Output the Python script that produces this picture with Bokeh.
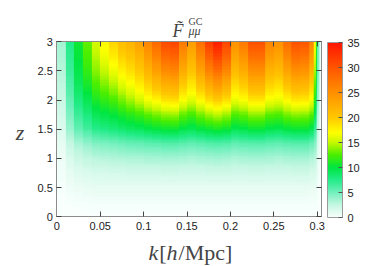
import numpy as np
from bokeh.plotting import figure
from bokeh.models import (LinearColorMapper, ColorBar, Label, FixedTicker,
                          LinearAxis, Range1d)
from bokeh.embed import file_html
from bokeh.resources import INLINE

# ---------------- data ----------------
k_centers = [0.005, 0.015, 0.025, 0.035, 0.045, 0.055, 0.065, 0.075, 0.085, 0.095,
             0.105, 0.115, 0.125, 0.135, 0.145, 0.155, 0.165, 0.175, 0.185, 0.195,
             0.205, 0.215, 0.225, 0.235, 0.245, 0.255, 0.265, 0.275, 0.285, 0.295]
z_levels = [0.0, 0.25, 0.5, 0.75, 1.0, 1.25, 1.5, 1.75, 2.0, 2.25, 2.5, 2.75, 3.0]

# F_mumu^GC along k, one list per redshift level
F_z000 = [0.0] * 30
F_z025 = [0.05, 0.15, 0.2, 0.25, 0.3, 0.3, 0.3, 0.3, 0.3, 0.3, 0.3, 0.3, 0.3, 0.3, 0.3,
          0.3, 0.3, 0.3, 0.3, 0.3, 0.3, 0.3, 0.3, 0.3, 0.3, 0.3, 0.3, 0.3, 0.3, 0.25]
F_z050 = [0.2, 0.5, 0.7, 0.8, 0.9, 0.9, 0.9, 0.9, 0.9, 0.9, 0.9, 0.9, 0.9, 0.9, 0.9,
          0.9, 0.9, 0.9, 0.9, 0.9, 0.9, 0.9, 0.9, 0.9, 0.9, 0.9, 0.9, 0.9, 0.9, 0.8]
F_z075 = [0.35, 0.9, 1.3, 1.5, 1.7, 1.7, 1.8, 1.8, 1.9, 1.9, 1.9, 1.9, 2.0, 2.0, 1.9,
          1.9, 1.9, 2.0, 2.0, 2.0, 1.9, 1.9, 2.0, 2.0, 1.9, 1.9, 1.9, 2.0, 2.0, 1.7]
F_z100 = [0.6, 1.6, 2.2, 2.6, 2.9, 3.0, 3.1, 3.2, 3.3, 3.3, 3.4, 3.4, 3.5, 3.5, 3.4,
          3.3, 3.4, 3.5, 3.6, 3.5, 3.3, 3.4, 3.5, 3.5, 3.4, 3.3, 3.4, 3.5, 3.5, 3.1]
F_z125 = [0.9, 2.4, 3.4, 4.0, 4.5, 4.7, 4.9, 5.1, 5.3, 5.4, 5.6, 5.7, 5.9, 5.9, 5.7,
          5.5, 5.7, 5.9, 6.0, 5.9, 5.5, 5.7, 5.8, 5.8, 5.6, 5.5, 5.7, 5.8, 5.8, 5.3]
F_z150 = [1.5, 3.8, 5.5, 6.5, 7.5, 7.8, 8.2, 8.6, 9.0, 9.3, 9.8, 10.2, 10.5, 10.6, 9.9,
          9.5, 10.1, 10.6, 11.0, 10.6, 9.6, 9.9, 10.4, 10.4, 9.8, 9.6, 10.1, 10.4, 10.4, 9.6]
F_z175 = [1.9, 4.7, 6.8, 8.0, 9.3, 9.8, 10.3, 11.0, 11.6, 12.2, 13.0, 13.6, 14.2, 14.3, 13.2,
          12.5, 13.5, 14.4, 15.0, 14.3, 12.7, 13.2, 14.0, 14.0, 13.0, 12.7, 13.5, 14.0, 13.9, 13.0]
F_z200 = [2.3, 5.5, 8.0, 9.5, 11.0, 11.8, 12.5, 13.5, 14.5, 15.5, 16.8, 17.7, 18.7, 18.9, 17.1,
          16.0, 17.5, 19.0, 20.0, 18.9, 16.4, 17.1, 18.5, 18.5, 16.8, 16.4, 17.5, 18.5, 18.3, 16.8]
F_z225 = [2.7, 6.2, 9.0, 10.8, 12.5, 13.5, 14.5, 15.8, 16.8, 18.0, 19.4, 20.8, 22.1, 22.4, 19.9,
          18.3, 20.5, 22.6, 24.0, 22.4, 18.8, 19.9, 21.8, 21.8, 19.4, 18.8, 20.5, 21.8, 21.6, 19.4]
F_z250 = [3.0, 6.8, 9.7, 11.8, 13.8, 15.1, 16.5, 17.8, 18.8, 20.0, 21.9, 23.7, 25.5, 25.9, 22.6,
          20.5, 23.4, 26.2, 28.0, 25.9, 21.2, 22.6, 25.1, 25.1, 21.9, 21.2, 23.4, 25.1, 24.8, 21.9]
F_z275 = [3.3, 7.2, 10.2, 12.5, 14.8, 16.5, 18.0, 19.5, 20.4, 21.8, 24.1, 26.2, 28.4, 28.9, 24.9,
          22.3, 25.8, 29.3, 31.5, 28.9, 23.2, 24.9, 28.0, 28.0, 24.1, 23.2, 25.8, 28.0, 27.6, 24.1]
F_z300 = [3.5, 7.5, 10.5, 13.0, 15.5, 17.5, 19.5, 21.0, 22.0, 23.5, 26.0, 28.5, 31.0, 31.5, 27.0,
          24.0, 28.0, 32.0, 34.5, 31.5, 25.0, 27.0, 30.5, 30.5, 26.0, 25.0, 28.0, 30.5, 30.0, 26.0]

# narrow strip at the upper k edge (k from 0.296 to the end of the axis), z ascending
edge_F_1 = [0, 0.3, 0.8, 1.6, 2.8, 4.5, 7.0, 9.5, 11.5, 13.0, 14.5, 16.0, 17.0]
edge_F_2 = [0, 0.3, 0.7, 1.3, 2.2, 3.4, 5.0, 6.5, 8.0, 9.0, 10.0, 10.5, 11.0]
edge_F_3 = [0, 0.1, 0.3, 0.6, 1.0, 1.5, 2.2, 2.9, 3.5, 4.0, 4.5, 4.8, 5.0]
edge_F_4 = [0, 0.1, 0.1, 0.2, 0.3, 0.4, 0.5, 0.6, 0.7, 0.8, 0.9, 0.9, 1.0]
edge_F_5 = [0, 0.0, 0.1, 0.1, 0.1, 0.2, 0.2, 0.3, 0.3, 0.4, 0.4, 0.5, 0.5]
edge_k_start = 0.296

x_ticks = [0, 0.05, 0.1, 0.15, 0.2, 0.25, 0.3]
x_tick_labels = ["0", "0.05", "0.1", "0.15", "0.2", "0.25", "0.3"]
y_ticks = [0, 0.5, 1, 1.5, 2, 2.5, 3]
y_tick_labels = ["0", "0.5", "1", "1.5", "2", "2.5", "3"]
cb_ticks = [0, 5, 10, 15, 20, 25, 30, 35]
k_min, k_max = 0.0, 0.305
z_min, z_max = 0.0, 3.0
F_low, F_high = 0, 35

# ---------------- colour map ----------------
stop_v = [0, 2.5, 5, 7.5, 10, 12.5, 15, 17, 20, 25, 30, 35]
stop_c = ["#f8fffc", "#c4f7e2", "#70f0bc", "#22ec88", "#00e640", "#4aee00",
          "#c8f800", "#ffff00", "#ffc800", "#ff9000", "#ff5500", "#ff1500"]


def _rgb(h):
    return [int(h[i:i + 2], 16) for i in (1, 3, 5)]


stop_rgb = np.array([_rgb(c) for c in stop_c], dtype=float)
palette = []
for v in np.linspace(F_low, F_high, 256):
    rgb = [np.interp(v, stop_v, stop_rgb[:, i]) for i in range(3)]
    palette.append("#%02x%02x%02x" % tuple(int(round(c)) for c in rgb))
mapper = LinearColorMapper(palette=palette, low=F_low, high=F_high)

# ---------------- layout (pixels) ----------------
W, H = 378, 266
PX_K0, PX_PER_K = 56.3, 868.0      # screen x of k=0, pixels per unit k
PY_Z0, PY_PER_Z = 216.3, 58.33     # screen y of z=0, pixels per unit z


def kx(px):
    return (px - PX_K0) / PX_PER_K


def zy(py):
    return (PY_Z0 - py) / PY_PER_Z


p = figure(width=W, height=H, x_range=Range1d(kx(0), kx(W)), y_range=Range1d(zy(H), zy(0)),
           output_backend="svg", toolbar_location=None,
           min_border=0, min_border_left=0, min_border_right=0,
           min_border_top=0, min_border_bottom=0)
p.background_fill_color = "white"
p.border_fill_color = "white"
p.outline_line_color = None
p.grid.visible = False

# map: the read grid, shaded smoothly along z (as in the original pm3d map)
rows = np.array([F_z000, F_z025, F_z050, F_z075, F_z100, F_z125, F_z150, F_z175,
                 F_z200, F_z225, F_z250, F_z275, F_z300], dtype=float)
n_fine = 120
z_fine = z_min + (np.arange(n_fine) + 0.5) * (z_max - z_min) / n_fine
main = np.column_stack([np.interp(z_fine, z_levels, rows[:, j]) for j in range(rows.shape[1])])
dk = k_centers[1] - k_centers[0]
p.image(image=[main], x=k_centers[0] - dk / 2, y=z_min,
        dw=dk * len(k_centers), dh=z_max - z_min, color_mapper=mapper)

edge_cols = [edge_F_1, edge_F_2, edge_F_3, edge_F_4, edge_F_5]
edge = np.column_stack([np.interp(z_fine, z_levels, c) for c in edge_cols])
p.image(image=[edge], x=edge_k_start, y=z_min, dw=k_max - edge_k_start,
        dh=z_max - z_min, color_mapper=mapper)

# axes (drawn at the box edges)
tick_font = "Liberation Sans"
frame_col = "#8c8c8c"
tick_col = "#444444"
xa = p.xaxis[0]
ya = p.yaxis[0]
xa.fixed_location = z_min
ya.fixed_location = k_min
xa.bounds = (k_min, k_max)
ya.bounds = (z_min, z_max)
for ax in (xa, ya):
    ax.axis_line_color = frame_col
    ax.major_tick_in = 5
    ax.major_tick_out = 0
    ax.minor_tick_line_color = None
    ax.major_tick_line_color = tick_col
    ax.major_label_text_font = tick_font
    ax.major_label_text_font_size = "11px"
    ax.major_label_text_color = "#222222"
xa.ticker = FixedTicker(ticks=x_ticks)
xa.major_label_overrides = dict(zip(x_ticks, x_tick_labels))
xa.major_label_standoff = 5
ya.ticker = FixedTicker(ticks=y_ticks)
ya.major_label_overrides = dict(zip(y_ticks, y_tick_labels))
ya.major_label_standoff = 4

top_ax = LinearAxis(ticker=FixedTicker(ticks=x_ticks), fixed_location=z_max,
                    bounds=(k_min, k_max), axis_line_color=frame_col,
                    major_tick_in=5, major_tick_out=0, minor_tick_line_color=None,
                    major_tick_line_color=tick_col, major_label_text_color=None)
p.add_layout(top_ax, "above")
right_ax = LinearAxis(ticker=FixedTicker(ticks=y_ticks), fixed_location=k_max,
                      bounds=(z_min, z_max), axis_line_color=frame_col,
                      major_tick_in=5, major_tick_out=0, minor_tick_line_color=None,
                      major_tick_line_color=tick_col, major_label_text_color=None)
p.add_layout(right_ax, "right")

# colour bar
cb = ColorBar(color_mapper=mapper, ticker=FixedTicker(ticks=cb_ticks),
              width=15, height=175, padding=0, margin=0, label_standoff=5,
              major_label_text_font=tick_font, major_label_text_font_size="11px",
              major_label_text_color="#222222",
              major_tick_in=4, major_tick_out=0, major_tick_line_color="#555555",
              minor_tick_line_color=None,
              bar_line_color="#9a9a9a", border_line_color=None,
              background_fill_color=None, location=(327, H - 217))
p.add_layout(cb)

serif = "Liberation Serif"
# title  F~^{GC}_{mu mu}
p.add_layout(Label(x=kx(172), y=zy(30), text="F\u0303", text_font=serif,
                   text_font_style="italic", text_font_size="18px",
                   text_align="left", text_baseline="alphabetic"))
p.add_layout(Label(x=kx(188), y=zy(20.5), text="GC", text_font=serif,
                   text_font_size="10px", text_align="left", text_baseline="alphabetic"))
p.add_layout(Label(x=kx(188), y=zy(30.5), text="\u03bc\u03bc", text_font=serif,
                   text_font_style="italic", text_font_size="12px",
                   text_align="left", text_baseline="alphabetic"))

# y label
p.add_layout(Label(x=kx(19.5), y=zy(132), text="z", text_font=serif,
                   text_font_style="italic", text_font_size="22px",
                   text_align="center", text_baseline="alphabetic"))

# x label  k[h/Mpc]
fs = 22
parts = [("k", "italic", 0.444), ("[", "normal", 0.333), ("h", "italic", 0.5),
         ("/Mpc]", "normal", 2.444)]
off = 0.0
for txt, sty, w in parts:
    p.add_layout(Label(x=kx(148), y=zy(252), x_offset=off, text=txt, text_font=serif,
                       text_font_style=sty, text_font_size="%dpx" % fs,
                       text_align="left", text_baseline="alphabetic"))
    off += w * fs + (1 if sty == "italic" else 0)

open("out.html", "w").write(file_html(p, INLINE))
